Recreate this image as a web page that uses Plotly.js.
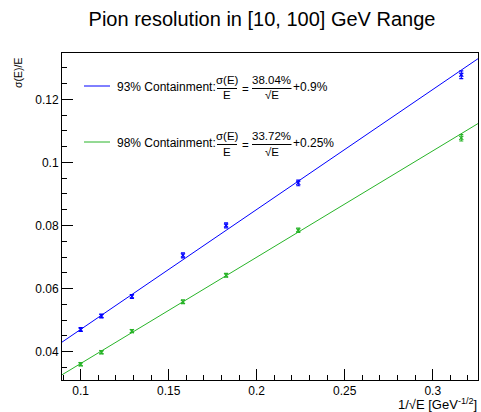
<!DOCTYPE html>
<html>
<head>
<meta charset="utf-8">
<script src="https://cdn.plot.ly/plotly-3.0.1.min.js"></script>
<style>html,body{margin:0;padding:0;background:#fff;}#chart{width:481px;height:412px;}</style>
</head>
<body>
<div id="chart"></div>
<script>
// Beam energies (GeV) and x = 1/sqrt(E)
const energies = [100, 80, 60, 40, 30, 20, 10];
const invSqrtE = [0.1, 0.1118, 0.1291, 0.1581, 0.1826, 0.2236, 0.3162];
// Resolution sigma(E)/E
const res93 = [0.0470, 0.0513, 0.0575, 0.0705, 0.0800, 0.0935, 0.1278];
const err93 = [0.0006, 0.0006, 0.0006, 0.0008, 0.0008, 0.0009, 0.0012];
const res98 = [0.0360, 0.0398, 0.0465, 0.0558, 0.0642, 0.0785, 0.1078];
const err98 = [0.0005, 0.0005, 0.0005, 0.0006, 0.0006, 0.0007, 0.0010];
// Fit parameters: sigma/E = a * x + b
const fit93 = [0.3804, 0.009];
const fit98 = [0.3372, 0.0025];
const xRange = [0.0894, 0.3257];
const yRange = [0.0310, 0.1347];
const labels93 = ["93% Containment:", "38.04%", "+0.9%"];
const labels98 = ["98% Containment:", "33.72%", "+0.25%"];

const BLUE = 'rgb(0,0,255)';
const GREEN = 'rgb(40,180,40)';
const FONT = 'Liberation Sans, Arial, sans-serif';

const W = 481, H = 412, L = 62, R = 3, T = 53, B = 32;
const pw = W - L - R, ph = H - T - B;
const px = x => (x - L) / pw;
const py = y => (H - B - y) / ph;

function fitLine(p) { return xRange.map(x => p[0] * x + p[1]); }

const traces = [
  {x: xRange, y: fitLine(fit93), mode: 'lines', line: {color: BLUE, width: 1}, hoverinfo: 'skip'},
  {x: xRange, y: fitLine(fit98), mode: 'lines', line: {color: GREEN, width: 1}, hoverinfo: 'skip'},
  {x: invSqrtE, y: res93, mode: 'markers', marker: {color: BLUE, size: 4, symbol: 'x-thin', line: {color: BLUE, width: 1.2}},
   error_y: {type: 'data', array: err93, color: BLUE, thickness: 1.2, width: 2}},
  {x: invSqrtE, y: res98, mode: 'markers', marker: {color: GREEN, size: 4, symbol: 'x-thin', line: {color: GREEN, width: 1.2}},
   error_y: {type: 'data', array: err98, color: GREEN, thickness: 1.2, width: 2}}
];

const annotations = [];
const shapes = [];
function txt(text, x, y, size, xanchor, extra) {
  annotations.push(Object.assign({text: text, xref: 'paper', yref: 'paper', x: px(x), y: py(y),
    xanchor: xanchor || 'left', yanchor: 'middle', showarrow: false,
    font: {family: FONT, size: size || 12, color: '#000'}}, extra || {}));
}
function hline(x0, x1, y, color, w) {
  shapes.push({type: 'line', xref: 'paper', yref: 'paper', x0: px(x0), x1: px(x1), y0: py(y), y1: py(y),
    line: {color: color, width: w || 1}});
}
function legendEntry(labels, color, yc) {
  hline(84, 110, yc, color, 1);
  txt(labels[0], 114.5, yc + 0.5, 12, 'left');
  txt('σ(E)', 227, yc - 6.5, 11.5, 'center');
  hline(217, 237, yc + 2.5, '#000', 1);
  txt('E', 227, yc + 9.5, 11.5, 'center');
  txt('=', 245.5, yc + 2.5, 11.5, 'center');
  txt(labels[1], 271.5, yc - 6.5, 11.5, 'center');
  hline(252, 291.5, yc + 2.5, '#000', 1);
  txt('√E', 271.5, yc + 9.5, 11.5, 'center');
  txt(labels[2], 291, yc + 1, 12, 'left');
}
legendEntry(labels93, BLUE, 86);
legendEntry(labels98, GREEN, 142);

// axis titles
txt('1/√E [GeV<sup>-1/2</sup>]', 479, 404, 13, 'right');
annotations.push({text: 'σ(E)/E', xref: 'paper', yref: 'paper', x: px(18), y: py(56), xanchor: 'center', yanchor: 'top',
  textangle: -90, showarrow: false, font: {family: FONT, size: 10.5, color: '#000'}});

const layout = {
  width: W, height: H,
  margin: {l: L, r: R, t: T, b: B, pad: 0},
  paper_bgcolor: '#fff', plot_bgcolor: '#fff',
  showlegend: false,
  title: {text: 'Pion resolution in [10, 100] GeV Range', font: {family: FONT, size: 20, color: '#000'},
          x: 262 / W, xref: 'container', xanchor: 'center', y: 1 - 19 / H, yref: 'container', yanchor: 'middle'},
  xaxis: {range: xRange, showgrid: false, zeroline: false, showline: true, linecolor: '#000', linewidth: 1, mirror: true,
          ticks: 'inside', ticklen: 11, tickcolor: '#000', tickwidth: 1,
          tickvals: [0.1, 0.15, 0.2, 0.25, 0.3], ticktext: ['0.1', '0.15', '0.2', '0.25', '0.3'],
          minor: {ticks: 'inside', ticklen: 5, tickcolor: '#000', dtick: 0.01, tick0: 0, showgrid: false},
          tickfont: {family: FONT, size: 12, color: '#000'}},
  yaxis: {range: yRange, showgrid: false, zeroline: false, showline: true, linecolor: '#000', linewidth: 1, mirror: true,
          ticks: 'inside', ticklen: 11, tickcolor: '#000', tickwidth: 1,
          tickvals: [0.04, 0.06, 0.08, 0.1, 0.12], ticktext: ['0.04', '0.06', '0.08', '0.1', '0.12'],
          minor: {ticks: 'inside', ticklen: 5, tickcolor: '#000', dtick: 0.005, tick0: 0, showgrid: false},
          tickfont: {family: FONT, size: 12, color: '#000'}},
  annotations: annotations,
  shapes: shapes
};

Plotly.newPlot('chart', traces, layout, {staticPlot: true, displayModeBar: false});
</script>
</body>
</html>
